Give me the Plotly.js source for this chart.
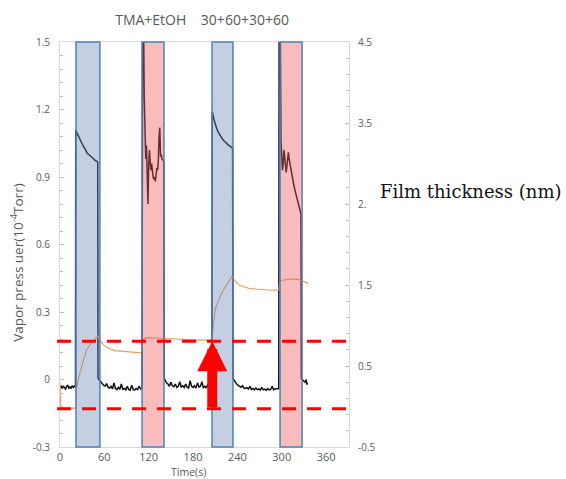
<!DOCTYPE html>
<html>
<head>
<meta charset="utf-8">
<script src="https://cdn.plot.ly/plotly-3.0.1.min.js"></script>
<style>html,body{margin:0;padding:0;background:#fff;}#chart{width:566px;height:479px;}</style>
</head>
<body>
<div id="chart"></div>
<script>
// ---- data ----
const pressTime = [0,1.5,3,4.5,6,7.5,9,10.5,12,13.5,15,16.5,18,19.5,21,
  21.3,23,25,27,29,31,33,35,37,39,41,43,45,47,49,51,
  51.5,53,55,57,59,61,63,65,67,69,71,73,75,77,79,81,83,85,87,89,91,93,95,97,99,101,103,105,107,109,111,
  111.8,113,114,115,116,117,118,119,120,121,122,123,124,125,126,127,128,129,130,131,132,133,134,135,136,137,138,139,140.5,
  141,142.5,144,146,148,150,152,154,156,158,160,162,164,166,168,170,172,174,176,178,180,182,184,186,188,190,192,194,196,198,200,202,204,205.5,
  206,208,210,212,214,216,218,220,222,224,226,228,230,232,233.5,
  234,235.5,237,239,241,243,245,247,249,251,253,255,257,259,261,263,265,267,269,271,273,275,277,279,281,283,285,287,289,291,293,295,296,
  296.5,298,299,300,301,302,303,304,305,306,307,308,309,310,311,312,314,316,318,320,322,324,326,
  326.5,328,330,331.5,333,334,335.5];
const pressValue = [-0.035,-0.03,-0.04,-0.028,-0.036,-0.042,-0.03,-0.026,-0.038,-0.033,-0.04,-0.028,-0.035,-0.03,-0.032,
  1.11,1.095,1.08,1.065,1.05,1.04,1.03,1.015,1.005,1.0,0.995,0.99,0.982,0.975,0.97,0.967,
  0.005,-0.002,-0.012,-0.02,-0.025,-0.03,-0.018,-0.035,-0.038,-0.03,-0.042,-0.015,-0.04,-0.045,-0.035,-0.043,-0.02,-0.044,-0.04,-0.046,-0.03,-0.045,-0.048,-0.025,-0.044,-0.047,-0.04,-0.045,-0.03,-0.042,-0.04,
  1.65,1.6,1.25,1.03,0.98,1.04,0.9,0.78,0.95,1.02,0.97,0.93,0.96,0.92,0.9,0.89,0.9,0.88,0.92,0.94,0.93,0.97,1.08,1.12,0.99,1.0,0.98,0.975,0.97,
  0.005,-0.005,-0.015,-0.02,-0.03,-0.012,-0.028,-0.032,-0.02,-0.035,-0.03,-0.01,-0.033,-0.028,-0.036,-0.02,-0.034,-0.038,-0.005,-0.03,-0.035,-0.028,-0.038,-0.015,-0.033,-0.03,-0.01,-0.036,-0.03,-0.038,-0.02,-0.034,-0.03,-0.032,
  1.19,1.16,1.135,1.115,1.1,1.088,1.077,1.068,1.06,1.053,1.047,1.042,1.037,1.032,1.028,
  0.005,-0.003,-0.012,-0.02,-0.026,-0.03,-0.035,-0.028,-0.038,-0.04,-0.036,-0.042,-0.03,-0.044,-0.04,-0.046,-0.038,-0.045,-0.042,-0.047,-0.035,-0.046,-0.043,-0.048,-0.04,-0.046,-0.044,-0.03,-0.045,-0.042,-0.04,-0.038,-0.04,
  1.65,1.6,1.06,0.98,0.93,0.96,1.02,0.99,0.95,0.92,0.95,0.99,1.01,0.98,0.96,0.93,0.9,0.87,0.84,0.81,0.78,0.755,0.735,
  0.005,-0.002,-0.008,-0.012,0.0,-0.02,-0.018];

const thickTime = [0,1,5,10,15,20,21,22,25,30,36,42,47,51,54,58,62,68,75,85,95,105,110,111.5,113,116,120,130,140,150,160,175,190,200,206,207,208.5,210,213,216,220,224,228,231,233,236,240,245,250,255,265,275,285,296,297.5,305,315,322,328,333,336];
const thickValue = [0.3,-0.01,-0.02,-0.02,-0.02,-0.02,-0.02,0.2,0.35,0.51,0.7,0.78,0.83,0.87,0.82,0.77,0.74,0.71,0.69,0.68,0.67,0.665,0.67,0.78,0.83,0.85,0.85,0.845,0.84,0.835,0.83,0.825,0.82,0.82,0.83,0.95,1.1,1.2,1.28,1.35,1.42,1.48,1.54,1.59,1.61,1.56,1.52,1.49,1.47,1.46,1.45,1.44,1.435,1.44,1.55,1.565,1.575,1.57,1.55,1.53,1.52];

const pulseStart = [21.6, 111, 205.7, 297.7];
const pulseEnd   = [54, 140.7, 234, 327.5];
const pulseGas   = ['TMA', 'EtOH', 'TMA', 'EtOH'];

const refLevels = [0.17, -0.13];       // red dashed lines (left axis)
const arrowTime = 206;                  // red arrow position

const xTicks = [0, 60, 120, 180, 240, 300, 360];
const yTicks = [-0.3, 0, 0.3, 0.6, 0.9, 1.2, 1.5];
const yTickText = ['-0.3', '0', '0.3', '0.6', '0.9', '1.2', '1.5'];
const y2Ticks = [-0.5, 0.5, 1.5, 2.5, 3.5, 4.5];
const y2TickText = ['-0.5', '0.5', '1.5', '2.5', '3.5', '4.5'];

// ---- chart ----
const grey = '#d9d9d9';
const tickFontColor = '#595959';

const traces = [
  {x: thickTime, y: thickValue, yaxis: 'y2', type: 'scatter', mode: 'lines',
   line: {color: '#ec9a5a', width: 1.1}, hoverinfo: 'skip'},
  {x: pressTime, y: pressValue, type: 'scatter', mode: 'lines',
   line: {color: '#111111', width: 1.5}, hoverinfo: 'skip'}
];

const fills = {TMA: 'rgba(107,137,182,0.4)', EtOH: 'rgba(237,88,88,0.4)'};
const shapes = [];
pulseStart.forEach((s, i) => {
  shapes.push({type: 'rect', xref: 'x', yref: 'paper', x0: s, x1: pulseEnd[i], y0: 0, y1: 1,
    fillcolor: fills[pulseGas[i]], line: {color: '#4f81bd', width: 1.5}, layer: 'above'});
});
refLevels.forEach(v => {
  shapes.push({type: 'line', xref: 'paper', yref: 'y', x0: -0.0104, x1: 0.99, y0: v, y1: v,
    line: {color: '#ff0000', width: 3, dash: '14px,11px'}, layer: 'above'});
});
// white patch partly hiding the right axis title (as in the reference)
shapes.push({type: 'rect', xref: 'paper', yref: 'paper', x0: 1.062, x1: 1.097, y0: 0.46, y1: 0.672,
  fillcolor: '#ffffff', line: {width: 0}, layer: 'above'});

const annotations = [
  {x: arrowTime, y: refLevels[0], ax: arrowTime, ay: refLevels[1], xref: 'x', yref: 'y', axref: 'x', ayref: 'y',
   text: '', showarrow: true, arrowhead: 2, arrowsize: 0.6, arrowwidth: 10, arrowcolor: '#ff0000', standoff: 0, startstandoff: 0},
  {xref: 'paper', yref: 'paper', x: 1.1, y: 0.63, xanchor: 'left', yanchor: 'middle', showarrow: false,
   text: 'Film thickness (nm)', font: {family: 'DejaVu Serif', size: 18, color: '#111'}},
  {xref: 'paper', yref: 'paper', x: -0.149, y: 0.457, xanchor: 'center', yanchor: 'middle', showarrow: false,
   textangle: -90, text: 'Vapor press uer(10<sup>-4</sup>Torr)', font: {family: 'Open Sans', size: 13.5, color: tickFontColor}},
  {xref: 'paper', yref: 'paper', x: 0.443, y: -0.062, xanchor: 'center', yanchor: 'middle', showarrow: false,
   text: 'Time(s)', font: {family: 'Open Sans', size: 10.5, color: tickFontColor}}
];

const layout = {
  width: 566, height: 479, autosize: false,
  paper_bgcolor: '#ffffff', plot_bgcolor: '#ffffff',
  margin: {l: 60, r: 217, t: 42, b: 32, pad: 0},
  showlegend: false,
  title: {text: 'TMA+EtOH\u00A0\u00A0\u00A0\u00A030+60+30+60', x: 0.357, xref: 'container', xanchor: 'center',
          y: 0.958, yref: 'container', yanchor: 'middle',
          font: {family: 'Open Sans', size: 14, color: tickFontColor}},
  xaxis: {range: [0, 391], tickmode: 'array', tickvals: xTicks, showgrid: false, zeroline: false,
          showline: true, linecolor: grey, linewidth: 1, mirror: true, ticks: '',
          tickfont: {family: 'Open Sans', size: 11, color: tickFontColor}, ticklabelstandoff: 0},
  yaxis: {range: [-0.3, 1.5], tickmode: 'array', tickvals: yTicks, ticktext: yTickText, showgrid: false, zeroline: false,
          showline: true, linecolor: grey, linewidth: 1, ticks: 'inside', ticklen: 4, tickcolor: '#bfbfbf',
          minor: {tick0: -0.3, dtick: 0.06, ticks: 'inside', ticklen: 3, tickcolor: '#bfbfbf'},
          tickfont: {family: 'Open Sans', size: 10, color: tickFontColor}, ticklabelstandoff: 7},
  yaxis2: {overlaying: 'y', side: 'right', range: [-0.5, 4.5], tickmode: 'array', tickvals: y2Ticks, ticktext: y2TickText,
           showgrid: false, zeroline: false, showline: true, linecolor: grey, linewidth: 1,
           ticks: 'inside', ticklen: 4, tickcolor: '#bfbfbf',
           minor: {tick0: -0.5, dtick: 0.2, ticks: 'inside', ticklen: 3, tickcolor: '#bfbfbf'},
           tickfont: {family: 'Open Sans', size: 10, color: tickFontColor}, ticklabelstandoff: 6},
  shapes: shapes,
  annotations: annotations
};

Plotly.newPlot('chart', traces, layout, {staticPlot: true, displayModeBar: false});
</script>
</body>
</html>
